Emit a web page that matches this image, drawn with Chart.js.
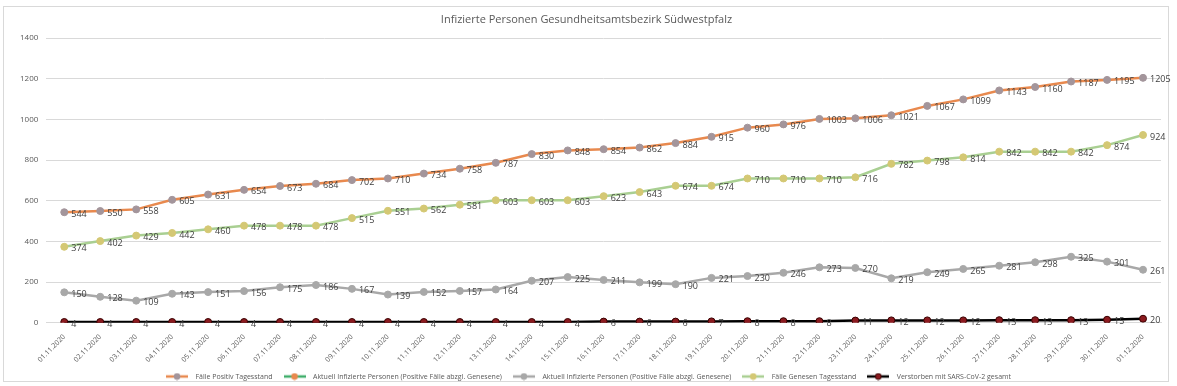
<!DOCTYPE html>
<html>
<head>
<meta charset="utf-8">
<script src="https://cdn.jsdelivr.net/npm/chart.js@4.4.0/dist/chart.umd.min.js"></script>
<style>
  html, body { margin: 0; padding: 0; background: #fff; }
  #frame { position: absolute; left: 3px; top: 6px; width: 1166px; height: 376px; border: 1px solid #d9d9d9; box-sizing: border-box; }
  #wrap { position: absolute; left: 0; top: 0; width: 1177px; height: 386px; }
</style>
</head>
<body>
<div id="frame"></div>
<div id="wrap"><canvas id="myChart" width="1177" height="386"></canvas></div>
<script>
const dates = ['01.11.2020','02.11.2020','03.11.2020','04.11.2020','05.11.2020','06.11.2020','07.11.2020','08.11.2020',
  '09.11.2020','10.11.2020','11.11.2020','12.11.2020','13.11.2020','14.11.2020','15.11.2020','16.11.2020','17.11.2020',
  '18.11.2020','19.11.2020','20.11.2020','21.11.2020','22.11.2020','23.11.2020','24.11.2020','25.11.2020','26.11.2020',
  '27.11.2020','28.11.2020','29.11.2020','30.11.2020','01.12.2020'];

const positiv = [544,550,558,605,631,654,673,684,702,710,734,758,787,830,848,854,862,884,915,960,976,1003,1006,1021,1067,1099,1143,1160,1187,1195,1205];
const aktuellGruen = [];
const aktuell = [150,128,109,143,151,156,175,186,167,139,152,157,164,207,225,211,199,190,221,230,246,273,270,219,249,265,281,298,325,301,261];
const genesen = [374,402,429,442,460,478,478,478,515,551,562,581,603,603,603,623,643,674,674,710,710,710,716,782,798,814,842,842,842,874,924];
const verstorben = [4,4,4,4,4,4,4,4,4,4,4,4,4,4,4,6,6,6,7,8,8,8,11,12,12,12,13,13,13,15,20];

const yTicks = [0,200,400,600,800,1000,1200,1400];

const FONT = '"Open Sans", "Noto Sans", sans-serif';

// legend icon: short line with a dot in the middle
function legendIcon(lineColor, dotColor, dotBorder){
    const c = document.createElement('canvas');
    c.width = 22; c.height = 8;
    const g = c.getContext('2d');
    g.strokeStyle = lineColor; g.lineWidth = 2.5;
    g.beginPath(); g.moveTo(0, 4); g.lineTo(22, 4); g.stroke();
    g.fillStyle = dotColor; g.strokeStyle = dotBorder; g.lineWidth = 1;
    g.beginPath(); g.arc(11, 4, 3, 0, Math.PI*2); g.fill(); g.stroke();
    return c;
}

// value labels to the right of every point
const valueLabels = {
    id: 'valueLabels',
    afterDatasetsDraw(chart){
        const ctx = chart.ctx;
        ctx.save();
        ctx.font = '9px ' + FONT;
        ctx.fillStyle = '#404040';
        ctx.textAlign = 'left';
        ctx.textBaseline = 'middle';
        chart.data.datasets.forEach(function(ds, i){
            const meta = chart.getDatasetMeta(i);
            meta.data.forEach(function(pt, j){
                if (ds.data[j] == null) return;
                ctx.fillText(String(ds.data[j]), pt.x + 7, pt.y + 2);
            });
        });
        ctx.restore();
    }
};

const data = {
    labels: dates,
    datasets: [
        {
            label: 'Fälle Positiv Tagesstand',
            data: positiv,
            borderColor: '#e8894e',
            backgroundColor: '#a3959b',
            pointBorderColor: '#a3959b',
            icon: legendIcon('#e8894e', '#a3959b', '#a3959b')
        },
        {
            label: 'Aktuell Infizierte Personen (Positive Fälle abzgl. Genesene)',
            data: aktuellGruen,
            borderColor: '#3fae6a',
            backgroundColor: '#e8894e',
            pointBorderColor: '#e8894e',
            icon: legendIcon('#3fae6a', '#e8894e', '#e8894e')
        },
        {
            label: 'Aktuell Infizierte Personen (Positive Fälle abzgl. Genesene)',
            data: aktuell,
            borderColor: '#a8a8a8',
            backgroundColor: '#a8a8a8',
            pointBorderColor: '#a8a8a8',
            icon: legendIcon('#a8a8a8', '#a8a8a8', '#a8a8a8')
        },
        {
            label: 'Fälle Genesen Tagesstand',
            data: genesen,
            borderColor: '#a9cf92',
            backgroundColor: '#d4c874',
            pointBorderColor: '#d4c874',
            icon: legendIcon('#a9cf92', '#d4c874', '#d4c874')
        },
        {
            label: 'Verstorben mit SARS-CoV-2 gesamt',
            data: verstorben,
            borderColor: '#000000',
            backgroundColor: '#8b1a1f',
            pointBorderColor: '#3a0000',
            icon: legendIcon('#000000', '#8b1a1f', '#3a0000')
        }
    ]
};
data.datasets.forEach(function(ds){
    ds.borderWidth = 2.5;
    ds.pointRadius = 3.5;
    ds.pointBorderWidth = 1;
    ds.pointHoverRadius = 3.5;
    ds.tension = 0;
});

const config = {
    type: 'line',
    data: data,
    options: {
        responsive: false,
        animation: false,
        layout: { padding: { left: 12, right: 16, top: 6, bottom: -4 } },
        plugins: {
            title: {
                display: true,
                text: 'Infizierte Personen Gesundheitsamtsbezirk Südwestpfalz',
                color: '#595959',
                font: { family: FONT, size: 11, weight: 'normal' },
                padding: { top: 7, bottom: 12 }
            },
            legend: {
                position: 'bottom',
                labels: {
                    usePointStyle: true,
                    pointStyleWidth: 30,
                    color: '#595959',
                    font: { family: FONT, size: 7 },
                    padding: 7,
                    generateLabels(chart){
                        const items = Chart.defaults.plugins.legend.labels.generateLabels(chart);
                        items.forEach(function(it){
                            it.pointStyle = chart.data.datasets[it.datasetIndex].icon;
                        });
                        return items;
                    }
                }
            },
            tooltip: { enabled: false }
        },
        scales: {
            x: {
                offset: true,
                grid: { display: false },
                border: { color: '#d9d9d9', width: 1 },
                ticks: {
                    color: '#595959',
                    font: { family: FONT, size: 7 },
                    maxRotation: 45,
                    minRotation: 45,
                    autoSkip: false,
                    padding: 2
                }
            },
            y: {
                min: 0,
                max: 1400,
                afterBuildTicks(axis){
                    axis.ticks = yTicks.map(function(v){ return { value: v }; });
                },
                grid: { color: '#d9d9d9', drawTicks: false },
                border: { display: false },
                ticks: {
                    color: '#595959',
                    font: { family: FONT, size: 8 },
                    padding: 8,
                    callback: function(v){ return String(v); }
                }
            }
        }
    },
    plugins: [valueLabels]
};

const myChart = new Chart(document.getElementById('myChart'), config);
</script>
</body>
</html>
